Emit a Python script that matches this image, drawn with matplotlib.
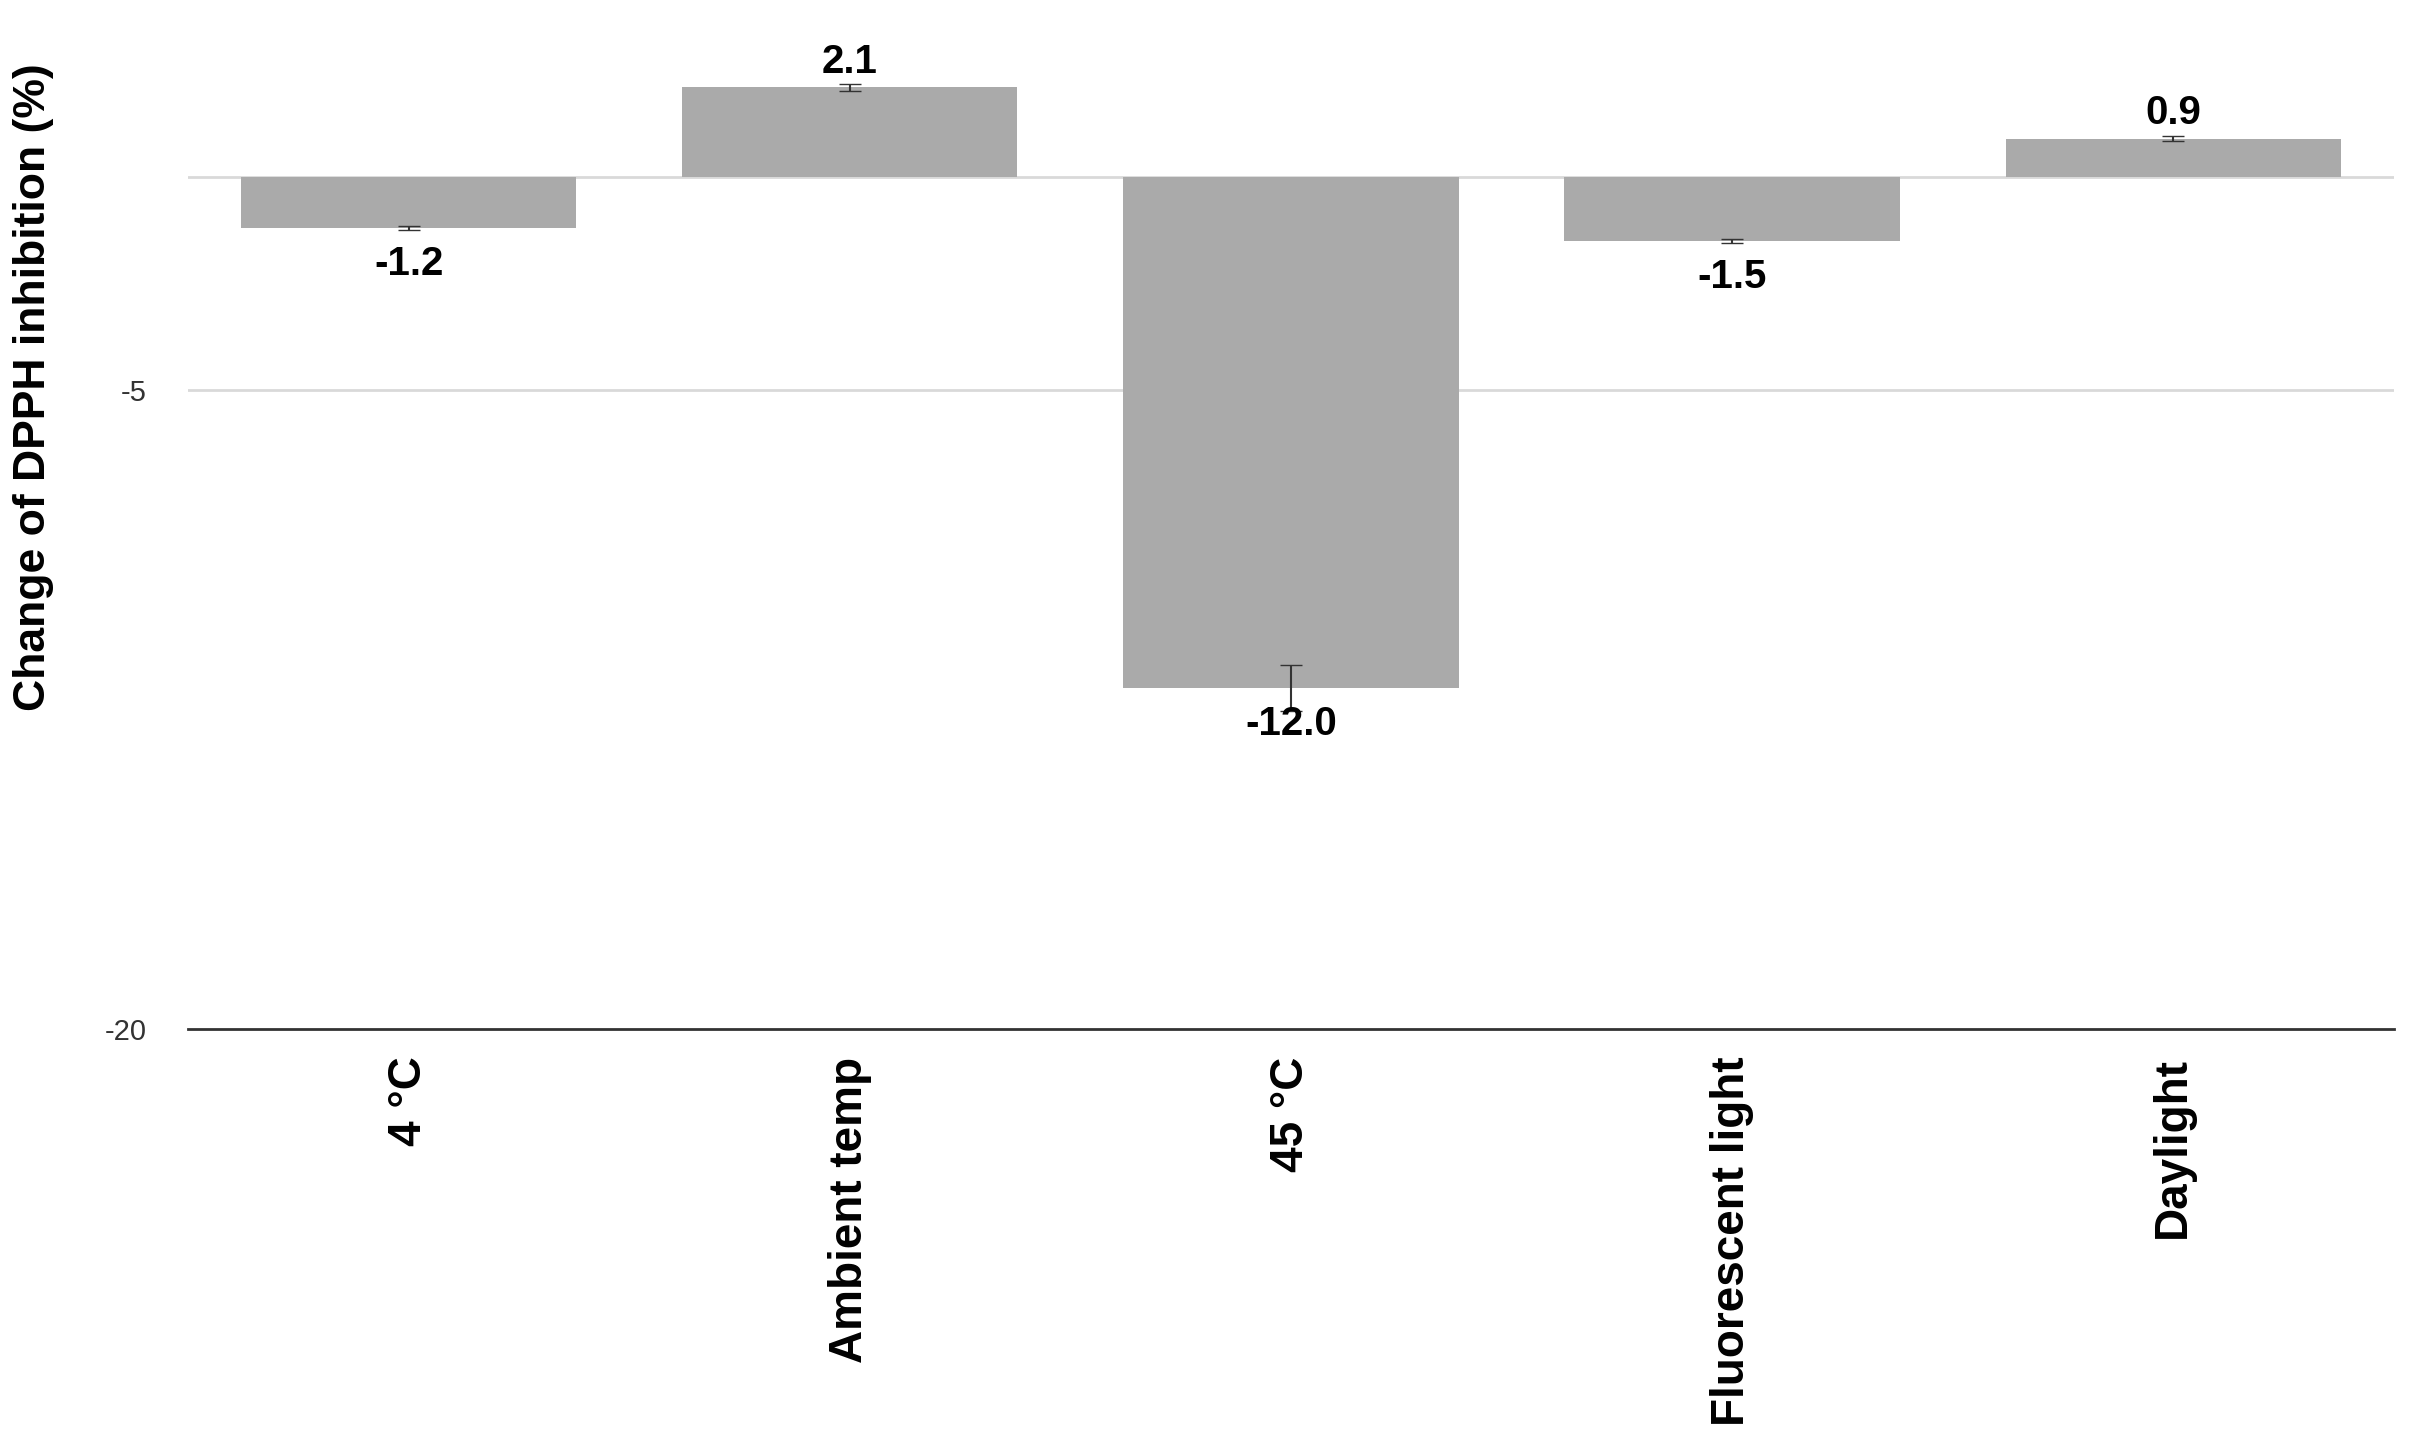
import matplotlib
matplotlib.use("Agg")
import matplotlib.pyplot as plt

categories = ["4 °C", "Ambient temp", "45 °C", "Fluorescent light", "Daylight"]
values = [-1.2, 2.1, -12.0, -1.5, 0.9]
errors = [0.05, 0.08, 0.55, 0.05, 0.05]
ytick_vals = [-20, -5, 0]
ytick_labels = ["-20", "-5", ""]

plt.rcParams['font.family'] = ['Liberation Sans', 'DejaVu Sans']
fig = plt.figure(figsize=(24.13, 14.47), dpi=100)
ax = fig.add_axes([0.078, 0.289, 0.914, 0.68])
x = list(range(len(categories)))
ax.bar(x, values, width=0.76, color="#aaaaaa", zorder=2)
ax.errorbar(x, values, yerr=errors, fmt="none", ecolor="#333333", elinewidth=1.5, capsize=8, zorder=3)
for xi, v in zip(x, values):
    if v >= 0:
        ax.text(xi, v + 0.15, f"{v:.1f}", ha="center", va="bottom", fontsize=29, fontweight="bold")
    else:
        ax.text(xi, v - 0.4, f"{v:.1f}", ha="center", va="top", fontsize=29, fontweight="bold")
ax.set_ylim(-20, 3.1)
ax.set_xlim(-0.5, len(categories) - 0.5)
ax.set_yticks(ytick_vals)
ax.set_yticklabels(ytick_labels, fontsize=21, color="#333333")
ax.set_xticks(x)
ax.set_xticklabels(categories, rotation=90, fontsize=33, fontweight="bold")
ax.tick_params(axis="x", length=0, pad=20)
ax.tick_params(axis="y", length=0, pad=30)
for yv in [0, -5]:
    ax.axhline(yv, color="#d9d9d9", lw=2, zorder=1)
for s in ["top", "right", "left"]:
    ax.spines[s].set_visible(False)
ax.spines["bottom"].set_color("#333333")
ax.spines["bottom"].set_linewidth(2)
ax.set_ylabel("Change of DPPH inhibition (%)", fontsize=32, fontweight="bold")
ax.yaxis.set_label_coords(-0.061, 0.652)
fig.savefig("out.png", dpi=100)
